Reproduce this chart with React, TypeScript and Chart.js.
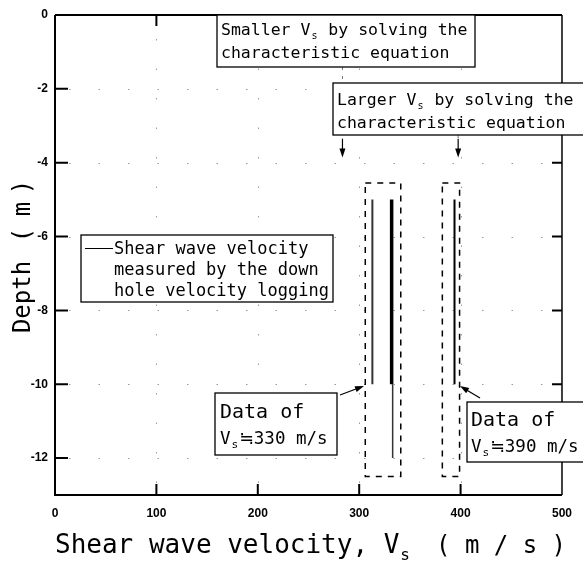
import React, { useEffect, useRef } from "react";
import { Chart, registerables } from "chart.js";

Chart.register(...registerables);

// ---- data ----
const xTickValues = [0, 100, 200, 300, 400, 500];
const yTickValues = [0, -2, -4, -6, -8, -10, -12];

// Shear wave velocity segments (x = Vs in m/s, y = depth in m)
const lowerVsLine = [{ x: 313, y: -5 }, { x: 313, y: -10 }];
const measuredVsLine = [{ x: 332, y: -5 }, { x: 332, y: -10 }];
const measuredVsTail = [{ x: 333, y: -10 }, { x: 333, y: -12 }];
const upperVsLine = [{ x: 394, y: -5 }, { x: 394, y: -10 }];

// dashed data groups
const group330X = [306, 341];
const group390X = [382, 399];
const groupDepth = [-4.55, -12.5];

// arrow x positions (data units) and depth range
const arrowX = [283.5, 397.6];
const arrowDepth = [-3.35, -3.86];

const MONO = '"DejaVu Sans Mono", "Liberation Mono", "Noto Sans CJK JP", monospace';
const CJK = '"Noto Sans CJK JP", "DejaVu Sans", sans-serif';

function rectPts(xs: number[], ys: number[]) {
  return [
    { x: xs[0], y: ys[0] },
    { x: xs[1], y: ys[0] },
    { x: xs[1], y: ys[1] },
    { x: xs[0], y: ys[1] },
    { x: xs[0], y: ys[0] },
  ];
}

type Part = { t: string; sub?: boolean; cjk?: boolean };

function drawRich(ctx: CanvasRenderingContext2D, parts: Part[], x: number, y: number, size: number) {
  let cx = x;
  for (const p of parts) {
    if (p.sub) {
      ctx.font = `${Math.round(size * 0.62)}px ${MONO}`;
      ctx.fillText(p.t, cx + 1, y + size * 0.25);
      cx += ctx.measureText(p.t).width + 2;
    } else if (p.cjk) {
      ctx.font = `${size}px ${CJK}`;
      ctx.fillText(p.t, cx, y);
      cx += ctx.measureText(p.t).width;
    } else {
      ctx.font = `${size}px ${MONO}`;
      ctx.fillText(p.t, cx, y);
      cx += ctx.measureText(p.t).width;
    }
  }
}

function box(ctx: CanvasRenderingContext2D, x0: number, y0: number, x1: number, y1: number) {
  ctx.save();
  ctx.fillStyle = "#fff";
  ctx.fillRect(x0, y0, x1 - x0, y1 - y0);
  ctx.strokeStyle = "#000";
  ctx.lineWidth = 1.3;
  ctx.setLineDash([]);
  ctx.strokeRect(x0, y0, x1 - x0, y1 - y0);
  ctx.restore();
}

function arrow(ctx: CanvasRenderingContext2D, x0: number, y0: number, x1: number, y1: number) {
  const ang = Math.atan2(y1 - y0, x1 - x0);
  const L = 9, W = 3;
  ctx.save();
  ctx.strokeStyle = "#000";
  ctx.fillStyle = "#000";
  ctx.lineWidth = 1.2;
  ctx.setLineDash([]);
  ctx.beginPath();
  ctx.moveTo(x0, y0);
  ctx.lineTo(x1 - Math.cos(ang) * L * 0.8, y1 - Math.sin(ang) * L * 0.8);
  ctx.stroke();
  ctx.beginPath();
  ctx.moveTo(x1, y1);
  ctx.lineTo(x1 - Math.cos(ang) * L - Math.sin(ang) * W, y1 - Math.sin(ang) * L + Math.cos(ang) * W);
  ctx.lineTo(x1 - Math.cos(ang) * L + Math.sin(ang) * W, y1 - Math.sin(ang) * L - Math.cos(ang) * W);
  ctx.closePath();
  ctx.fill();
  ctx.restore();
}

const framePlugin = {
  id: "frame",
  beforeDatasetsDraw(chart: any) {
    const { ctx, chartArea: a, scales } = chart;
    ctx.save();
    ctx.strokeStyle = "#9a9a9a";
    ctx.lineWidth = 1;
    ctx.setLineDash([1.5, 28]);
    for (const v of yTickValues) {
      if (v === 0) continue;
      const y = Math.round(scales.y.getPixelForValue(v)) + 0.5;
      ctx.beginPath();
      ctx.moveTo(a.left + 14, y);
      ctx.lineTo(a.right, y);
      ctx.stroke();
    }
    for (const v of xTickValues) {
      if (v === 0 || v === 500) continue;
      const x = Math.round(scales.x.getPixelForValue(v)) + 0.5;
      ctx.beginPath();
      ctx.moveTo(x, a.bottom - 12);
      ctx.lineTo(x, a.top);
      ctx.stroke();
    }
    ctx.restore();
  },
  afterDraw(chart: any) {
    const { ctx, chartArea: a, scales } = chart;
    const xs = scales.x, ys = scales.y;
    ctx.save();
    ctx.strokeStyle = "#000";
    ctx.setLineDash([]);
    // frame
    ctx.lineWidth = 2;
    ctx.beginPath();
    ctx.moveTo(a.left, a.top);
    ctx.lineTo(a.left, a.bottom);
    ctx.lineTo(a.right, a.bottom);
    ctx.moveTo(a.left, a.top);
    ctx.lineTo(a.right, a.top);
    ctx.stroke();
    ctx.lineWidth = 1.5;
    ctx.beginPath();
    ctx.moveTo(a.right, a.top);
    ctx.lineTo(a.right, a.bottom);
    ctx.stroke();
    // inward ticks
    ctx.lineWidth = 2;
    for (const v of yTickValues) {
      if (v === 0) continue;
      const y = ys.getPixelForValue(v);
      ctx.beginPath();
      ctx.moveTo(a.left, y);
      ctx.lineTo(a.left + 13, y);
      ctx.moveTo(a.right, y);
      ctx.lineTo(a.right - 10, y);
      ctx.stroke();
    }
    for (const v of xTickValues) {
      if (v === 0 || v === 500) continue;
      const x = xs.getPixelForValue(v);
      ctx.beginPath();
      ctx.moveTo(x, a.bottom);
      ctx.lineTo(x, a.bottom - 11);
      ctx.moveTo(x, a.top);
      ctx.lineTo(x, a.top + 11);
      ctx.stroke();
    }

    ctx.fillStyle = "#000";
    ctx.textAlign = "left";
    ctx.textBaseline = "alphabetic";

    // axis titles
    drawRich(ctx, [{ t: "Shear wave velocity, V" }, { t: "s", sub: true }], 55, 553, 26);
    ctx.font = `24px ${MONO}`;
    ctx.fillText("( m / s )", 436, 553);

    ctx.save();
    ctx.translate(30, 0);
    ctx.rotate(-Math.PI / 2);
    ctx.font = `24px ${MONO}`;
    ctx.textAlign = "center";
    ctx.fillText("Depth", -297, 0);
    ctx.fillText("(", -235, 0);
    ctx.fillText("m", -209, 0);
    ctx.fillText(")", -187, 0);
    ctx.restore();

    // connector arrows from the top boxes
    const ax0 = xs.getPixelForValue(arrowX[0]);
    const ax1 = xs.getPixelForValue(arrowX[1]);
    const ay0 = ys.getPixelForValue(arrowDepth[0]);
    const ay1 = ys.getPixelForValue(arrowDepth[1]);
    ctx.save();
    ctx.strokeStyle = "#777";
    ctx.lineWidth = 1;
    ctx.setLineDash([3, 6]);
    ctx.beginPath();
    ctx.moveTo(ax0, 67);
    ctx.lineTo(ax0, ay0);
    ctx.moveTo(ax1, 135);
    ctx.lineTo(ax1, ay0);
    ctx.stroke();
    ctx.restore();
    arrow(ctx, ax0, ay0, ax0, ay1);
    arrow(ctx, ax1, ay0, ax1, ay1);

    // annotation: smaller Vs
    box(ctx, 217, 15, 475, 67);
    ctx.fillStyle = "#000";
    drawRich(ctx, [{ t: "Smaller V" }, { t: "s", sub: true }, { t: " by solving the" }], 221, 35, 16.5);
    drawRich(ctx, [{ t: "characteristic equation" }], 221, 58, 16.5);

    // annotation: larger Vs
    box(ctx, 333, 83, 600, 135);
    drawRich(ctx, [{ t: "Larger V" }, { t: "s", sub: true }, { t: " by solving the" }], 337, 105, 16.5);
    drawRich(ctx, [{ t: "characteristic equation" }], 337, 128, 16.5);

    // legend box
    box(ctx, 81, 235, 333, 302);
    ctx.save();
    ctx.strokeStyle = "#000";
    ctx.lineWidth = 1;
    ctx.beginPath();
    ctx.moveTo(85, 248.5);
    ctx.lineTo(113, 248.5);
    ctx.stroke();
    ctx.restore();
    drawRich(ctx, [{ t: "Shear wave velocity" }], 114, 254, 17);
    drawRich(ctx, [{ t: "measured by the down" }], 114, 275, 17);
    drawRich(ctx, [{ t: "hole velocity logging" }], 114, 296, 17);

    // data-of boxes
    box(ctx, 215, 393, 337, 455);
    drawRich(ctx, [{ t: "Data of" }], 220, 418, 20);
    drawRich(ctx, [{ t: "V" }, { t: "s", sub: true }, { t: "≒", cjk: true }, { t: "330 m/s" }], 220, 444, 17.5);
    arrow(ctx, 340, 395, 364, 386);

    box(ctx, 467, 402, 600, 462);
    drawRich(ctx, [{ t: "Data of" }], 471, 426, 20);
    drawRich(ctx, [{ t: "V" }, { t: "s", sub: true }, { t: "≒", cjk: true }, { t: "390 m/s" }], 471, 452, 17.5);
    arrow(ctx, 480, 398, 460, 386);

    ctx.restore();
  },
};

export default function App() {
  const ref = useRef<HTMLCanvasElement | null>(null);
  useEffect(() => {
    if (!ref.current) return;
    const lineDs = (data: any[], width: number, color = "#000", dash: number[] = []) => ({
      data,
      showLine: true,
      borderColor: color,
      backgroundColor: color,
      borderWidth: width,
      borderDash: dash,
      pointRadius: 0,
      fill: false,
      tension: 0,
    });
    const chart = new Chart(ref.current, {
      type: "scatter",
      data: {
        datasets: [
          lineDs(rectPts(group330X, groupDepth), 1.5, "#000", [6, 6]),
          lineDs(rectPts(group390X, groupDepth), 1.5, "#000", [6, 6]),
          lineDs(lowerVsLine, 2, "#333"),
          lineDs(measuredVsLine, 3.5, "#000"),
          lineDs(measuredVsTail, 1.5, "#333"),
          lineDs(upperVsLine, 2, "#000"),
        ],
      },
      options: {
        animation: false,
        responsive: false,
        maintainAspectRatio: false,
        layout: { padding: { top: 15, right: 20, left: 0, bottom: 0 } },
        plugins: { legend: { display: false }, tooltip: { enabled: false } },
        scales: {
          x: {
            type: "linear",
            min: 0,
            max: 500,
            grid: { display: false, drawTicks: false },
            border: { display: false },
            afterBuildTicks: (s: any) => {
              s.ticks = xTickValues.map((v) => ({ value: v }));
            },
            afterFit: (s: any) => {
              s.height = 68;
            },
            ticks: {
              color: "#000",
              padding: 11,
              maxRotation: 0,
              autoSkip: false,
              font: { family: '"Liberation Sans", Arial, sans-serif', size: 12, weight: "bold" },
            },
          },
          y: {
            type: "linear",
            min: -13,
            max: 0,
            grid: { display: false, drawTicks: false },
            border: { display: false },
            afterBuildTicks: (s: any) => {
              s.ticks = yTickValues.map((v) => ({ value: v }));
            },
            afterFit: (s: any) => {
              s.width = 55;
            },
            ticks: {
              color: "#000",
              padding: 7,
              autoSkip: false,
              font: { family: '"Liberation Sans", Arial, sans-serif', size: 12, weight: "bold" },
            },
          },
        },
      },
      plugins: [framePlugin],
    } as any);
    return () => chart.destroy();
  }, []);
  return (
    <div style={{ position: "fixed", left: 0, top: 0, width: 583, height: 563, background: "#fff" }}>
      <canvas ref={ref} width={583} height={563} style={{ width: 583, height: 563, display: "block" }} />
    </div>
  );
}
